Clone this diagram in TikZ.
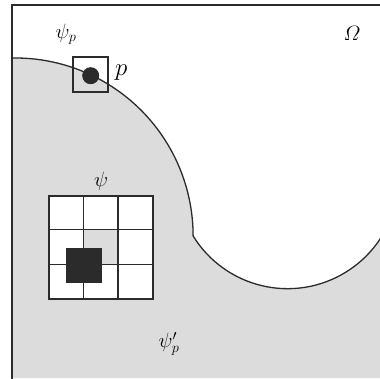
\documentclass[tikz,border=0pt]{standalone}
\usepackage{amsmath}
\usetikzlibrary{positioning}
\definecolor{bggray}{HTML}{DCDCDC}
\definecolor{ink}{HTML}{2B2B2B}

\begin{document}
\begin{tikzpicture}[x=1pt,y=1pt,
  line/.style={draw=ink,line width=1.3pt},
  blob/.style={circle,fill=ink,inner sep=0pt,minimum size=17pt},
  win/.style={draw=ink,line width=1.2pt,inner sep=0pt,minimum size=35pt},
  lab/.style={font=\huge}]
\useasboundingbox (0,0) rectangle (380,378);
\clip (0,0) rectangle (380,378);

%%% 領域
\fill[bggray] (12,0) -- (12,320) arc[start angle=91,end angle=0,radius=178]
  arc[start angle=211.68,end angle=330,radius=111] -- (400,0) -- cycle;
\draw[line] (12,320) arc[start angle=91,end angle=0,radius=178]
  arc[start angle=211.68,end angle=330,radius=111];
\draw[line] (12,-5) -- (12,373) -- (390,373);
%%%

%% 点 p
\node[win] (box) at (90.5,303.5) {};
\node[blob] (pt) at (90.7,302.3) {};
\node[font=\Huge,right=3pt of box.east,anchor=west,yshift=2pt] (plab) {$p$};

%% 格子
\fill[white] (49,79) rectangle (153,182);
\fill[bggray] (83.3,113.7) rectangle (118,148.3);
\draw[line] (49,79) rectangle (153,182);
\draw[line] (83.3,79) -- (83.3,182);
\draw[line] (118,79) -- (118,182);
\draw[line] (49,113.7) -- (153,113.7);
\draw[line] (49,148.3) -- (153,148.3);
\node[fill=ink,inner sep=0pt,minimum width=36pt,minimum height=35pt] (blk) at (84,113) {};

%% ラベル
\node[lab] (psip) at (66,344) {$\psi_p$};
\node[lab] (omega) at (352,345) {$\varOmega$};
\node[lab] (psi) at (101,197) {$\psi$};
\node[lab] (psipp) at (169,34) {$\psi'_p$};

\end{tikzpicture}
\end{document}
